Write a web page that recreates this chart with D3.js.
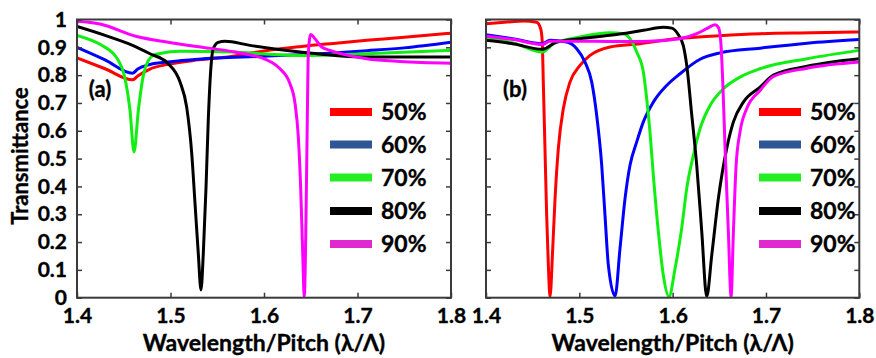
<!DOCTYPE html>
<html>
<head>
<meta charset="utf-8">
<script src="https://cdn.jsdelivr.net/npm/d3@7"></script>
<style>
  html, body { margin: 0; padding: 0; background: #fff; }
  svg { display: block; }
  text { font-family: Lato, "Open Sans", sans-serif; font-weight: 700; fill: #000; stroke: #000; stroke-width: 0.35px; }
</style>
</head>
<body>
<svg id="chart" width="876" height="358"></svg>
<script>
// ---------- DATA ----------
const seriesLabels = ["50%", "60%", "70%", "80%", "90%"];
const wavelengthTicks = [1.4, 1.5, 1.6, 1.7, 1.8];
const transmittanceTicks = [0, 0.1, 0.2, 0.3, 0.4, 0.5, 0.6, 0.7, 0.8, 0.9, 1];
const panelLabels = ["(a)", "(b)"];

// Panel (a)
const a50 = [[1.4,0.862],[1.43,0.823],[1.4595,0.783],[1.465,0.797],[1.478,0.822],[1.496,0.838],[1.53,0.855],[1.567,0.868],[1.6,0.887],[1.64,0.903],[1.674,0.914],[1.71,0.925],[1.75,0.936],[1.8,0.951]];
const a60 = [[1.4,0.90],[1.43,0.855],[1.4595,0.807],[1.465,0.822],[1.478,0.838],[1.5,0.848],[1.53,0.857],[1.6,0.868],[1.674,0.88],[1.71,0.888],[1.75,0.898],[1.8,0.918]];
const a70 = [[1.4,0.943],[1.425,0.91],[1.44,0.873],[1.4442,0.853],[1.4505,0.80],[1.4567,0.673],[1.461,0.524],[1.4656,0.673],[1.471,0.80],[1.4763,0.853],[1.482,0.872],[1.4888,0.878],[1.51,0.886],[1.567,0.883],[1.6385,0.871],[1.7098,0.877],[1.8,0.889]];
const a80 = [[1.4,0.975],[1.43,0.943],[1.4595,0.907],[1.478,0.877],[1.497,0.843],[1.5102,0.775],[1.5173,0.685],[1.5227,0.519],[1.5262,0.34],[1.5297,0.16],[1.5326,0.028],[1.5351,0.16],[1.538,0.398],[1.5404,0.638],[1.543,0.817],[1.5458,0.896],[1.5511,0.918],[1.5583,0.922],[1.585,0.907],[1.6385,0.883],[1.7098,0.865],[1.8,0.865]];
const a90 = [[1.4,0.994],[1.4246,0.984],[1.4638,0.939],[1.4959,0.919],[1.53,0.902],[1.5672,0.884],[1.6029,0.855],[1.6171,0.823],[1.6278,0.769],[1.6332,0.698],[1.6367,0.578],[1.6392,0.398],[1.6414,0.16],[1.6431,0.004],[1.6449,0.279],[1.6463,0.638],[1.6474,0.878],[1.6499,0.946],[1.6545,0.931],[1.6617,0.901],[1.6706,0.889],[1.7098,0.859],[1.7455,0.849],[1.8,0.843]];

// Panel (b)
const b50 = [[1.4,0.985],[1.42,0.99],[1.44,0.995],[1.4543,0.99],[1.4586,0.967],[1.4603,0.919],[1.4614,0.775],[1.4632,0.536],[1.465,0.297],[1.4668,0.117],[1.4686,0.004],[1.4715,0.177],[1.474,0.357],[1.4775,0.536],[1.4829,0.68],[1.49,0.775],[1.5007,0.835],[1.5115,0.871],[1.5329,0.901],[1.565,0.913],[1.6,0.93],[1.65,0.942],[1.694,0.949],[1.75,0.952],[1.8,0.955]];
const b60 = [[1.4,0.945],[1.43,0.93],[1.4603,0.913],[1.4686,0.925],[1.4865,0.919],[1.4972,0.895],[1.5061,0.847],[1.5133,0.775],[1.5186,0.656],[1.524,0.476],[1.5275,0.297],[1.5311,0.117],[1.5383,0.006],[1.5436,0.177],[1.549,0.357],[1.5543,0.476],[1.5615,0.56],[1.5686,0.632],[1.5793,0.703],[1.5936,0.763],[1.6079,0.805],[1.6294,0.857],[1.6508,0.880],[1.6937,0.897],[1.744,0.915],[1.8,0.928]];
const b70 = [[1.4,0.935],[1.43,0.915],[1.4603,0.883],[1.4722,0.913],[1.5007,0.937],[1.5329,0.952],[1.5472,0.949],[1.5543,0.931],[1.5615,0.883],[1.5686,0.811],[1.5722,0.715],[1.5757,0.596],[1.5793,0.44],[1.5847,0.237],[1.59,0.081],[1.5961,0.004],[1.6026,0.105],[1.6097,0.25],[1.6151,0.393],[1.6222,0.512],[1.6294,0.608],[1.6401,0.691],[1.6544,0.751],[1.6722,0.793],[1.6937,0.823],[1.744,0.859],[1.8,0.889]];
const b80 = [[1.4,0.925],[1.43,0.912],[1.4603,0.893],[1.4758,0.919],[1.5007,0.931],[1.5329,0.943],[1.5686,0.961],[1.59,0.972],[1.599,0.969],[1.6061,0.945],[1.6115,0.905],[1.6151,0.835],[1.6205,0.656],[1.6258,0.476],[1.6312,0.237],[1.6365,0.004],[1.6419,0.153],[1.649,0.357],[1.6579,0.536],[1.6651,0.632],[1.6758,0.703],[1.6937,0.757],[1.708,0.80],[1.744,0.832],[1.8,0.859]];
const b90 = [[1.4,0.94],[1.43,0.928],[1.4603,0.91],[1.4686,0.922],[1.5,0.922],[1.5329,0.921],[1.5686,0.921],[1.6079,0.931],[1.6258,0.949],[1.6365,0.967],[1.6454,0.981],[1.649,0.972],[1.6516,0.919],[1.6537,0.775],[1.6562,0.536],[1.6597,0.237],[1.6626,0.004],[1.6651,0.237],[1.668,0.476],[1.6722,0.596],[1.6794,0.68],[1.6937,0.745],[1.708,0.795],[1.744,0.825],[1.8,0.847]];

const lineColors = ["#ff0000", "#0000ff", "#11ee11", "#000000", "#ff00ff"];
const legendColors = ["#ff0000", "#2f5597", "#22ee22", "#000000", "#e02ad0"];

// ---------- LAYOUT ----------
const svg = d3.select("#chart");
const plotTop = 19.5, plotBottom = 297.7;
const panels = [
  { left: 77, right: 451, data: [a50, a60, a70, a80, a90], label: panelLabels[0], labelX: 100, yLabels: true, legendX: 330 },
  { left: 486, right: 859.3, data: [b50, b60, b70, b80, b90], label: panelLabels[1], labelX: 515, yLabels: false, legendX: 759 }
];
const legendY = [112, 144.5, 177.5, 211, 244];
const axisColor = "#3a3a3a";
const fs = 21;

panels.forEach((p, pi) => {
  const x = d3.scaleLinear().domain([1.4, 1.8]).range([p.left, p.right]);
  const y = d3.scaleLinear().domain([0, 1]).range([plotBottom, plotTop]);
  const g = svg.append("g");

  const clipId = "clip" + pi;
  svg.append("clipPath").attr("id", clipId).append("rect")
    .attr("x", p.left).attr("y", plotTop - 1).attr("width", p.right - p.left).attr("height", plotBottom - plotTop + 1);

  // Lines
  const line = d3.line().x(d => x(d[0])).y(d => y(d[1])).curve(d3.curveMonotoneX);
  const lg = g.append("g").attr("clip-path", `url(#${clipId})`);
  p.data.forEach((s, i) => {
    lg.append("path").datum(s).attr("d", line)
      .attr("fill", "none").attr("stroke", lineColors[i])
      .attr("stroke-width", 3).attr("stroke-linejoin", "round");
  });

  // Axes
  const xb = g.append("g").attr("transform", `translate(0,${plotBottom})`)
    .call(d3.axisBottom(x).tickValues(wavelengthTicks).tickSize(-5).tickSizeOuter(0).tickPadding(10).tickFormat(d3.format(".1f")));
  const xt = g.append("g").attr("transform", `translate(0,${plotTop})`)
    .call(d3.axisTop(x).tickValues(wavelengthTicks).tickSize(-5).tickSizeOuter(0).tickFormat(""));
  const yl = g.append("g").attr("transform", `translate(${p.left},0)`)
    .call(d3.axisLeft(y).tickValues(transmittanceTicks).tickSize(-5).tickSizeOuter(0).tickPadding(10)
      .tickFormat(p.yLabels ? d3.format("~g") : ""));
  const yr = g.append("g").attr("transform", `translate(${p.right},0)`)
    .call(d3.axisRight(y).tickValues(transmittanceTicks).tickSize(-5).tickSizeOuter(0).tickFormat(""));
  [xb, xt, yl, yr].forEach(a => {
    a.selectAll("path.domain").remove();
    a.selectAll("line").attr("stroke", axisColor).attr("stroke-width", 1.5);
    a.selectAll("text").attr("font-size", fs).attr("font-family", "Lato, sans-serif").attr("font-weight", 700).attr("fill", "#000");
  });

  g.append("rect").attr("x", p.left).attr("y", plotTop).attr("width", p.right - p.left).attr("height", plotBottom - plotTop)
    .attr("fill", "none").attr("stroke", axisColor).attr("stroke-width", 2);

  // Axis title
  g.append("text").attr("x", (p.left + p.right) / 2).attr("y", 351)
    .attr("text-anchor", "middle").attr("font-size", 23).text("Wavelength/Pitch (λ/Λ)");

  // Panel label
  g.append("text").attr("x", p.labelX).attr("y", 97).attr("text-anchor", "middle")
    .attr("font-size", 22).text(p.label);

  // Legend
  seriesLabels.forEach((lab, i) => {
    g.append("line").attr("x1", p.legendX).attr("x2", p.legendX + 42)
      .attr("y1", legendY[i]).attr("y2", legendY[i])
      .attr("stroke", legendColors[i]).attr("stroke-width", 8);
    g.append("text").attr("x", p.legendX + 51).attr("y", legendY[i] + 8)
      .attr("font-size", 23).text(lab);
  });
});

// Y axis title
svg.append("text").attr("transform", "translate(28,156) rotate(-90)")
  .attr("text-anchor", "middle").attr("font-size", 22).text("Transmittance");
</script>
</body>
</html>
